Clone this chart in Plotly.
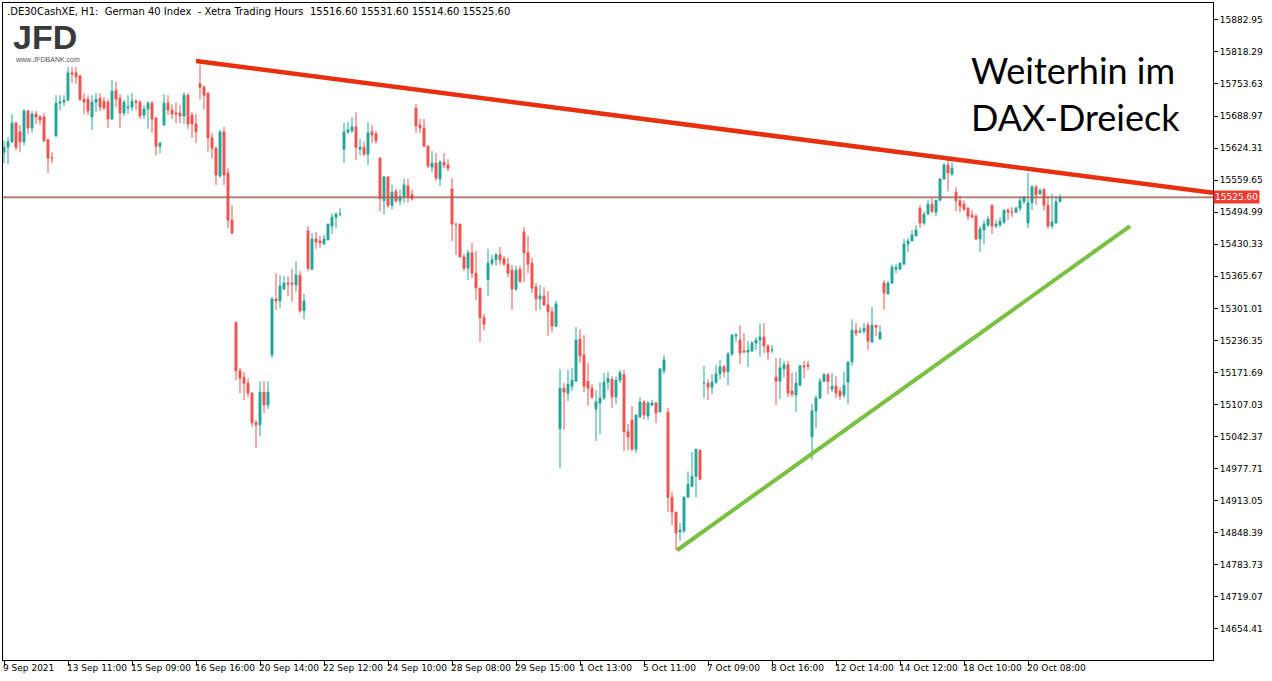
import plotly.graph_objects as go

# hourly bars, Xetra trading hours, 9 Sep - 20 Oct 2021 ---------------------
opens = [
    15616, 15626, 15637, 15675, 15657, 15637, 15699, 15665, 15693, 15687,
    15687, 15641, 15604, 15649, 15715, 15717, 15721, 15776, 15776, 15770,
    15723, 15723, 15687, 15717, 15725, 15719, 15717, 15683, 15741, 15725,
    15695, 15705, 15707, 15719, 15717, 15691, 15703, 15715, 15685, 15628,
    15671, 15715, 15701, 15695, 15695, 15689, 15731, 15691, 15673, 15754,
    15747, 15735, 15645, 15624, 15568, 15657, 15574, 15479, 15273, 15175,
    15162, 15150, 15130, 15070, 15066, 15132, 15106, 15207, 15320, 15316,
    15340, 15352, 15352, 15348, 15368, 15296, 15457, 15380, 15441, 15437,
    15431, 15439, 15467, 15485, 15491, 15622, 15657, 15659, 15667, 15622,
    15626, 15612, 15657, 15653, 15604, 15518, 15566, 15509, 15537, 15518,
    15526, 15548, 15530, 15705, 15671, 15665, 15628, 15586, 15594, 15562,
    15596, 15590, 15542, 15471, 15471, 15405, 15382, 15413, 15372, 15342,
    15282, 15359, 15392, 15399, 15409, 15401, 15390, 15378, 15340, 15380,
    15455, 15413, 15392, 15344, 15320, 15326, 15308, 15294, 15265, 15058,
    15140, 15130, 15144, 15154, 15239, 15207, 15154, 15140, 15098, 15110,
    15120, 15152, 15158, 15122, 15156, 15167, 15052, 15076, 15017, 15082,
    15112, 15084, 15106, 15110, 15092, 15175, 15092, 14920, 14890, 14850,
    14852, 14920, 14942, 14962, 15015, 15150, 15150, 15142, 15152, 15169,
    15183, 15173, 15209, 15245, 15237, 15215, 15213, 15215, 15231, 15237,
    15243, 15225, 15217, 15162, 15154, 15179, 15187, 15134, 15126, 15146,
    15185, 15187, 15042, 15094, 15120, 15154, 15167, 15138, 15144, 15134,
    15126, 15152, 15193, 15257, 15253, 15255, 15267, 15233, 15267, 15239,
    15352, 15330, 15352, 15380, 15380, 15390, 15431, 15437, 15447, 15503,
    15473, 15491, 15511, 15495, 15519, 15562, 15590, 15572, 15535, 15518,
    15511, 15503, 15489, 15487, 15441, 15459, 15469, 15509, 15467, 15469,
    15475, 15499, 15495, 15495, 15503, 15516, 15473, 15514, 15546, 15532,
    15541, 15509, 15467, 15473, 15516.6,
]
highs = [
    15639, 15647, 15693, 15677, 15671, 15703, 15701, 15699, 15699, 15691,
    15695, 15643, 15616, 15731, 15731, 15731, 15788, 15788, 15788, 15772,
    15735, 15731, 15731, 15735, 15735, 15727, 15723, 15762, 15758, 15733,
    15721, 15731, 15735, 15723, 15721, 15711, 15719, 15719, 15687, 15637,
    15733, 15731, 15713, 15717, 15711, 15737, 15735, 15697, 15693, 15792,
    15751, 15737, 15655, 15628, 15661, 15667, 15584, 15509, 15273, 15181,
    15173, 15160, 15132, 15076, 15154, 15154, 15154, 15324, 15372, 15368,
    15366, 15366, 15380, 15396, 15376, 15330, 15467, 15453, 15455, 15447,
    15449, 15471, 15493, 15495, 15503, 15675, 15677, 15687, 15697, 15643,
    15637, 15677, 15671, 15659, 15606, 15568, 15568, 15551, 15543, 15541,
    15562, 15562, 15541, 15713, 15683, 15683, 15630, 15618, 15614, 15600,
    15614, 15602, 15564, 15473, 15471, 15411, 15419, 15433, 15417, 15342,
    15290, 15421, 15409, 15413, 15425, 15407, 15403, 15389, 15387, 15387,
    15465, 15447, 15403, 15352, 15348, 15344, 15336, 15304, 15316, 15179,
    15150, 15177, 15181, 15263, 15259, 15247, 15191, 15148, 15136, 15152,
    15171, 15173, 15164, 15164, 15177, 15177, 15068, 15104, 15086, 15122,
    15116, 15114, 15116, 15112, 15179, 15207, 15100, 14930, 14890, 14868,
    14922, 14972, 15011, 15017, 15015, 15185, 15158, 15169, 15187, 15197,
    15187, 15213, 15249, 15251, 15267, 15251, 15235, 15235, 15243, 15271,
    15271, 15229, 15227, 15201, 15201, 15195, 15195, 15171, 15173, 15187,
    15195, 15195, 15108, 15126, 15160, 15171, 15171, 15171, 15164, 15142,
    15173, 15193, 15279, 15271, 15263, 15271, 15273, 15304, 15267, 15267,
    15358, 15356, 15389, 15390, 15394, 15441, 15443, 15459, 15469, 15509,
    15497, 15519, 15524, 15520, 15564, 15594, 15600, 15596, 15545, 15528,
    15519, 15505, 15499, 15491, 15467, 15479, 15487, 15509, 15479, 15485,
    15501, 15503, 15505, 15507, 15524, 15526, 15574, 15550, 15550, 15543,
    15543, 15528, 15532, 15528, 15531.6,
]
lows = [
    15594, 15592, 15635, 15620, 15616, 15630, 15653, 15655, 15673, 15671,
    15637, 15574, 15594, 15647, 15701, 15709, 15719, 15756, 15754, 15719,
    15693, 15691, 15661, 15697, 15699, 15701, 15665, 15681, 15707, 15665,
    15689, 15693, 15699, 15701, 15683, 15683, 15663, 15655, 15610, 15614,
    15669, 15691, 15683, 15675, 15675, 15673, 15663, 15645, 15635, 15723,
    15703, 15616, 15604, 15550, 15564, 15550, 15463, 15451, 15156, 15130,
    15116, 15122, 15062, 15019, 15043, 15090, 15098, 15201, 15298, 15302,
    15338, 15326, 15314, 15334, 15292, 15279, 15376, 15378, 15421, 15423,
    15429, 15439, 15451, 15463, 15487, 15594, 15653, 15655, 15600, 15610,
    15608, 15590, 15635, 15633, 15497, 15491, 15503, 15501, 15514, 15509,
    15514, 15514, 15518, 15655, 15655, 15626, 15584, 15576, 15558, 15548,
    15584, 15578, 15437, 15409, 15403, 15376, 15358, 15362, 15318, 15233,
    15257, 15326, 15387, 15387, 15389, 15387, 15364, 15298, 15336, 15352,
    15354, 15372, 15332, 15296, 15298, 15306, 15245, 15253, 15263, 14979,
    15056, 15114, 15134, 15154, 15191, 15132, 15104, 15118, 15033, 15047,
    15116, 15136, 15100, 15108, 15150, 15013, 15015, 15013, 15009, 15080,
    15076, 15076, 15104, 15070, 15092, 15169, 14890, 14864, 14813, 14832,
    14848, 14938, 14940, 14920, 14954, 15120, 15116, 15128, 15148, 15158,
    15162, 15146, 15205, 15233, 15189, 15211, 15183, 15213, 15217, 15203,
    15211, 15197, 15211, 15106, 15118, 15162, 15122, 15122, 15092, 15144,
    15160, 15177, 14995, 15060, 15118, 15152, 15128, 15132, 15120, 15116,
    15120, 15108, 15185, 15245, 15251, 15249, 15217, 15231, 15245, 15239,
    15298, 15330, 15350, 15372, 15378, 15390, 15415, 15437, 15447, 15463,
    15469, 15491, 15493, 15487, 15518, 15560, 15537, 15568, 15497, 15495,
    15497, 15479, 15483, 15439, 15415, 15431, 15465, 15451, 15463, 15465,
    15471, 15479, 15485, 15493, 15497, 15511, 15463, 15499, 15509, 15530,
    15499, 15461, 15461, 15473, 15514.6,
]
closes = [
    15626, 15637, 15675, 15626, 15637, 15699, 15665, 15693, 15687, 15681,
    15639, 15604, 15604, 15715, 15717, 15721, 15776, 15774, 15768, 15723,
    15717, 15699, 15717, 15723, 15707, 15705, 15683, 15739, 15723, 15695,
    15717, 15707, 15719, 15717, 15689, 15703, 15715, 15683, 15628, 15634,
    15715, 15701, 15693, 15693, 15689, 15731, 15673, 15673, 15657, 15747,
    15731, 15645, 15624, 15570, 15657, 15570, 15479, 15453, 15175, 15160,
    15150, 15130, 15070, 15066, 15132, 15106, 15132, 15320, 15316, 15346,
    15352, 15350, 15350, 15368, 15296, 15316, 15382, 15441, 15435, 15433,
    15441, 15471, 15485, 15491, 15491, 15657, 15661, 15667, 15626, 15626,
    15612, 15655, 15651, 15639, 15522, 15566, 15509, 15535, 15518, 15526,
    15550, 15526, 15522, 15669, 15665, 15628, 15588, 15594, 15564, 15596,
    15590, 15584, 15471, 15471, 15405, 15382, 15413, 15372, 15342, 15282,
    15269, 15392, 15399, 15409, 15399, 15390, 15372, 15340, 15378, 15356,
    15413, 15390, 15342, 15320, 15326, 15308, 15294, 15265, 15310, 15140,
    15132, 15148, 15156, 15237, 15205, 15144, 15140, 15122, 15112, 15120,
    15152, 15160, 15122, 15156, 15171, 15052, 15042, 15017, 15086, 15112,
    15086, 15110, 15110, 15090, 15179, 15197, 14920, 14890, 14848, 14854,
    14920, 14946, 14962, 15017, 14956, 15150, 15142, 15152, 15169, 15183,
    15173, 15209, 15247, 15247, 15211, 15213, 15217, 15231, 15237, 15243,
    15225, 15213, 15217, 15154, 15181, 15187, 15130, 15128, 15150, 15185,
    15183, 15185, 15094, 15120, 15154, 15167, 15154, 15144, 15130, 15124,
    15146, 15193, 15257, 15251, 15255, 15261, 15235, 15267, 15263, 15253,
    15332, 15352, 15384, 15384, 15392, 15431, 15437, 15449, 15459, 15473,
    15491, 15511, 15497, 15519, 15562, 15590, 15574, 15584, 15518, 15507,
    15501, 15487, 15485, 15441, 15461, 15471, 15481, 15467, 15471, 15477,
    15499, 15495, 15495, 15503, 15518, 15526, 15514, 15546, 15530, 15539,
    15509, 15467, 15475, 15516, 15525.6,
]

tick_idx = list(range(0, 257, 16))
tick_labels = [
    '9 Sep 2021', '13 Sep 11:00', '15 Sep 09:00', '16 Sep 16:00',
    '20 Sep 14:00', '22 Sep 12:00', '24 Sep 10:00', '28 Sep 08:00',
    '29 Sep 15:00', '1 Oct 13:00', '5 Oct 11:00', '7 Oct 09:00',
    '8 Oct 16:00', '12 Oct 14:00', '14 Oct 12:00', '18 Oct 10:00',
    '20 Oct 08:00',
]
price_ticks = [
    15882.95, 15818.29, 15753.63, 15688.97, 15624.31, 15559.65, 15494.99,
    15430.33, 15365.67, 15301.01, 15236.35, 15171.69, 15107.03, 15042.37,
    14977.71, 14913.05, 14848.39, 14783.73, 14719.07, 14654.41,
]
last_price = 15525.6
resistance = ([48, 302.25], [15800, 15534])
support = ([168.25, 281.5], [14813, 15467])

UP, DOWN = '#26a69a', '#ef5350'
FONT = 'DejaVu Sans'

fig = go.Figure(go.Candlestick(
    x=list(range(len(closes))), open=opens, high=highs, low=lows, close=closes,
    increasing=dict(line=dict(color=UP, width=1), fillcolor=UP),
    decreasing=dict(line=dict(color=DOWN, width=1), fillcolor=DOWN),
    whiskerwidth=0, hoverinfo='skip',
))

# trend lines -----------------------------------------------------------------
fig.add_trace(go.Scatter(
    x=resistance[0], y=resistance[1], mode='lines',
    line=dict(color='#e8300f', width=4.5), hoverinfo='skip'
))
fig.add_trace(go.Scatter(
    x=support[0], y=support[1], mode='lines',
    line=dict(color='#7ac143', width=4), hoverinfo='skip'
))
fig.add_hline(y=last_price - 1.5, line=dict(color=UP, width=1))
fig.add_hline(y=last_price, line=dict(color='#ef3a2f', width=1.2))

# annotations -----------------------------------------------------------------
ann = [
    dict(x=0, y=1, xref='paper', yref='paper', xanchor='left', yanchor='top',
         xshift=2, yshift=-1, showarrow=False,
         text='.DE30CashXE, H1:  German 40 Index  - Xetra Trading Hours  '
              '15516.60 15531.60 15514.60 15525.60',
         font=dict(family=FONT, size=10, color='black')),
    dict(x=0, y=1, xref='paper', yref='paper', xanchor='left', yanchor='top',
         xshift=8, yshift=-13, showarrow=False, text='<b>JFD</b>',
         font=dict(family='Liberation Sans', size=34, color='#3a3a3a')),
    dict(x=0, y=1, xref='paper', yref='paper', xanchor='left', yanchor='top',
         xshift=10, yshift=-51, showarrow=False, text='www.JFDBANK.com',
         font=dict(family='Liberation Sans', size=7, color='#555')),
    dict(x=0.974, y=0.934, xref='paper', yref='paper', xanchor='right',
         yanchor='top', showarrow=False, align='left',
         text='Weiterhin im<br>DAX-Dreieck',
         font=dict(family='Lato', size=36, color='black')),
    dict(x=1, y=last_price, xref='paper', yref='y', xanchor='left',
         showarrow=False, text='15525.60', bgcolor='#ef3a2f',
         font=dict(family=FONT, size=9, color='white'), borderpad=1),
]
for i, lab in zip(tick_idx, tick_labels):
    ann.append(dict(
        x=i, y=0, xref='x', yref='paper', xanchor='left', yanchor='top',
        xshift=-3, yshift=-1, showarrow=False, text=lab,
        font=dict(family=FONT, size=9, color='black')
    ))

fig.update_layout(
    width=1272, height=681, showlegend=False,
    paper_bgcolor='white', plot_bgcolor='white',
    margin=dict(l=3, r=59, t=3, b=21, autoexpand=False),
    annotations=ann,
    xaxis=dict(
        range=[-0.25, 302.25], rangeslider=dict(visible=False),
        showgrid=False, zeroline=False, showline=True, mirror=True,
        linecolor='black', linewidth=1, tickvals=tick_idx,
        ticktext=['' for _ in tick_idx], ticks='outside', ticklen=5,
        tickcolor='black',
    ),
    yaxis=dict(
        side='right', range=[14591.6, 15917], showgrid=False, zeroline=False,
        showline=True, mirror=True, linecolor='black', linewidth=1,
        tickvals=price_ticks, ticktext=[f'{v:.2f}' for v in price_ticks],
        ticks='outside', ticklen=4, tickcolor='black',
        tickfont=dict(family=FONT, size=9, color='black'),
    ),
)
fig.write_html("out.html", config={'displayModeBar': False},
               post_script="document.body.style.margin='0';")
